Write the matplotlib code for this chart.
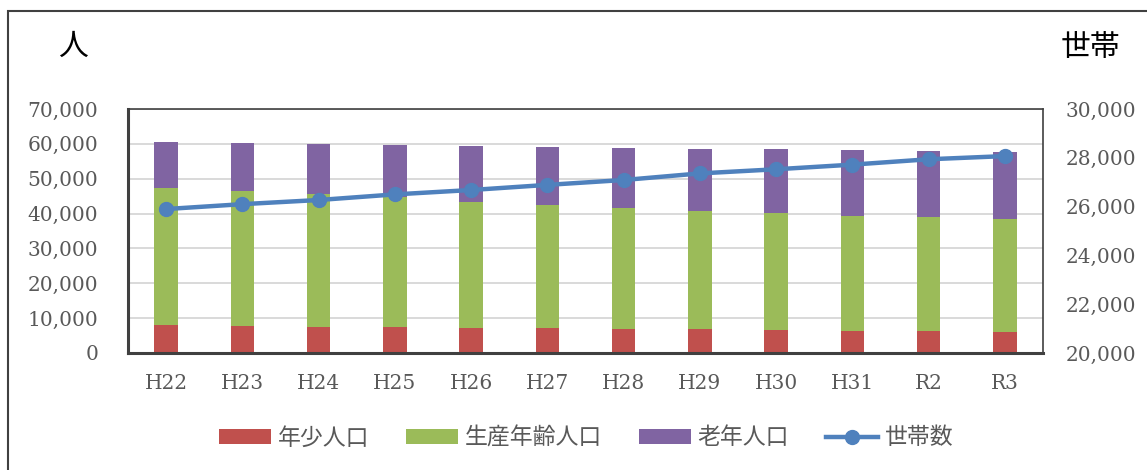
import numpy as np
import matplotlib.pyplot as plt
from matplotlib.patches import Rectangle, Patch
from matplotlib.lines import Line2D
from matplotlib.ticker import FuncFormatter

# --------------------------------------------------
# データ
# --------------------------------------------------
years = ["H22", "H23", "H24", "H25", "H26", "H27", "H28", "H29", "H30", "H31", "R2", "R3"]
young = [8000, 7800, 7600, 7450, 7260, 7170, 6900, 6900, 6600, 6400, 6300, 6100]
working = [39200, 38700, 38000, 37350, 36140, 35230, 34600, 33800, 33600, 33000, 32600, 32300]
old = [13200, 13800, 14400, 14900, 16100, 16800, 17400, 17900, 18200, 18700, 19000, 19300]
households = [25900, 26100, 26270, 26500, 26680, 26890, 27090, 27360, 27530, 27720, 27940, 28070]

c_young = "#c0504d"
c_work = "#9bbb59"
c_old = "#8064a2"
c_line = "#4f81bd"
c_text = "#595959"

jp_font = ["Noto Sans CJK JP", "DejaVu Sans"]
num_font = "DejaVu Serif"

# --------------------------------------------------
# プロット
# --------------------------------------------------
fig = plt.figure(figsize=(11.47, 4.70), dpi=100)
ax = fig.add_axes([128 / 1147, 117 / 470, (1043 - 128) / 1147, (353 - 109) / 470])

x = np.arange(len(years))
young_a = np.array(young)
work_a = np.array(working)
old_a = np.array(old)
w = 0.31
ax.bar(x, young_a, width=w, color=c_young, zorder=2)
ax.bar(x, work_a, width=w, bottom=young_a, color=c_work, zorder=2)
ax.bar(x, old_a, width=w, bottom=young_a + work_a, color=c_old, zorder=2)

ax.set_xlim(-0.5, len(years) - 0.5)
ax.set_ylim(0, 70000)
ax.set_yticks(np.arange(0, 70001, 10000))
ax.yaxis.grid(True, color="#d9d9d9", linewidth=1.4, zorder=0)
ax.set_axisbelow(True)
ax.set_xticks(x)
ax.set_xticklabels(years)

fmt = FuncFormatter(lambda v, p: f"{int(v):,}")
ax.yaxis.set_major_formatter(fmt)
ax.tick_params(axis="both", length=0, labelsize=14.5, labelcolor=c_text)
ax.tick_params(axis="y", pad=21.5)
ax.tick_params(axis="x", pad=15)
for lab in ax.get_xticklabels() + ax.get_yticklabels():
    lab.set_family(num_font)

for side in ["top", "right"]:
    ax.spines[side].set_color("#404040")
    ax.spines[side].set_linewidth(1.2)
for side in ["left", "bottom"]:
    ax.spines[side].set_color("#404040")
    ax.spines[side].set_linewidth(2.2)

ax2 = ax.twinx()
ax2.plot(x, households, color=c_line, linewidth=3.2, marker="o", markersize=10, zorder=3)
ax2.set_ylim(20000, 30000)
ax2.set_yticks(np.arange(20000, 30001, 2000))
ax2.yaxis.set_major_formatter(fmt)
ax2.tick_params(axis="y", length=0, labelsize=14.5, labelcolor=c_text, pad=16.5)
for lab in ax2.get_yticklabels():
    lab.set_family(num_font)
for s in ax2.spines.values():
    s.set_visible(False)

# 単位
fig.text(73 / 1147, 1 - 46 / 470, "人", fontsize=21.5, family=jp_font, ha="center", va="center")
fig.text(1091 / 1147, 1 - 47 / 470, "世帯", fontsize=21.5, family=jp_font, ha="center", va="center")

# 凡例
handles = [
    Patch(facecolor=c_young, label="年少人口"),
    Patch(facecolor=c_work, label="生産年齢人口"),
    Patch(facecolor=c_old, label="老年人口"),
    Line2D([0], [0], color=c_line, linewidth=3.2, marker="o", markersize=10, label="世帯数"),
]
leg = fig.legend(handles=handles, loc="center", bbox_to_anchor=(586 / 1147, 32 / 470), ncol=4,
                 frameon=False, prop={"family": jp_font, "size": 16.5}, handlelength=2.27,
                 handleheight=0.6, columnspacing=1.6, handletextpad=0.3)
for t in leg.get_texts():
    t.set_color(c_text)

# 外枠
fig.patches.append(Rectangle((8 / 1147, -0.1), 1.2, 1 - 11 / 470 + 0.1, transform=fig.transFigure,
                             fill=False, edgecolor="#404040", linewidth=1.5))

fig.savefig("out.png", dpi=100)
